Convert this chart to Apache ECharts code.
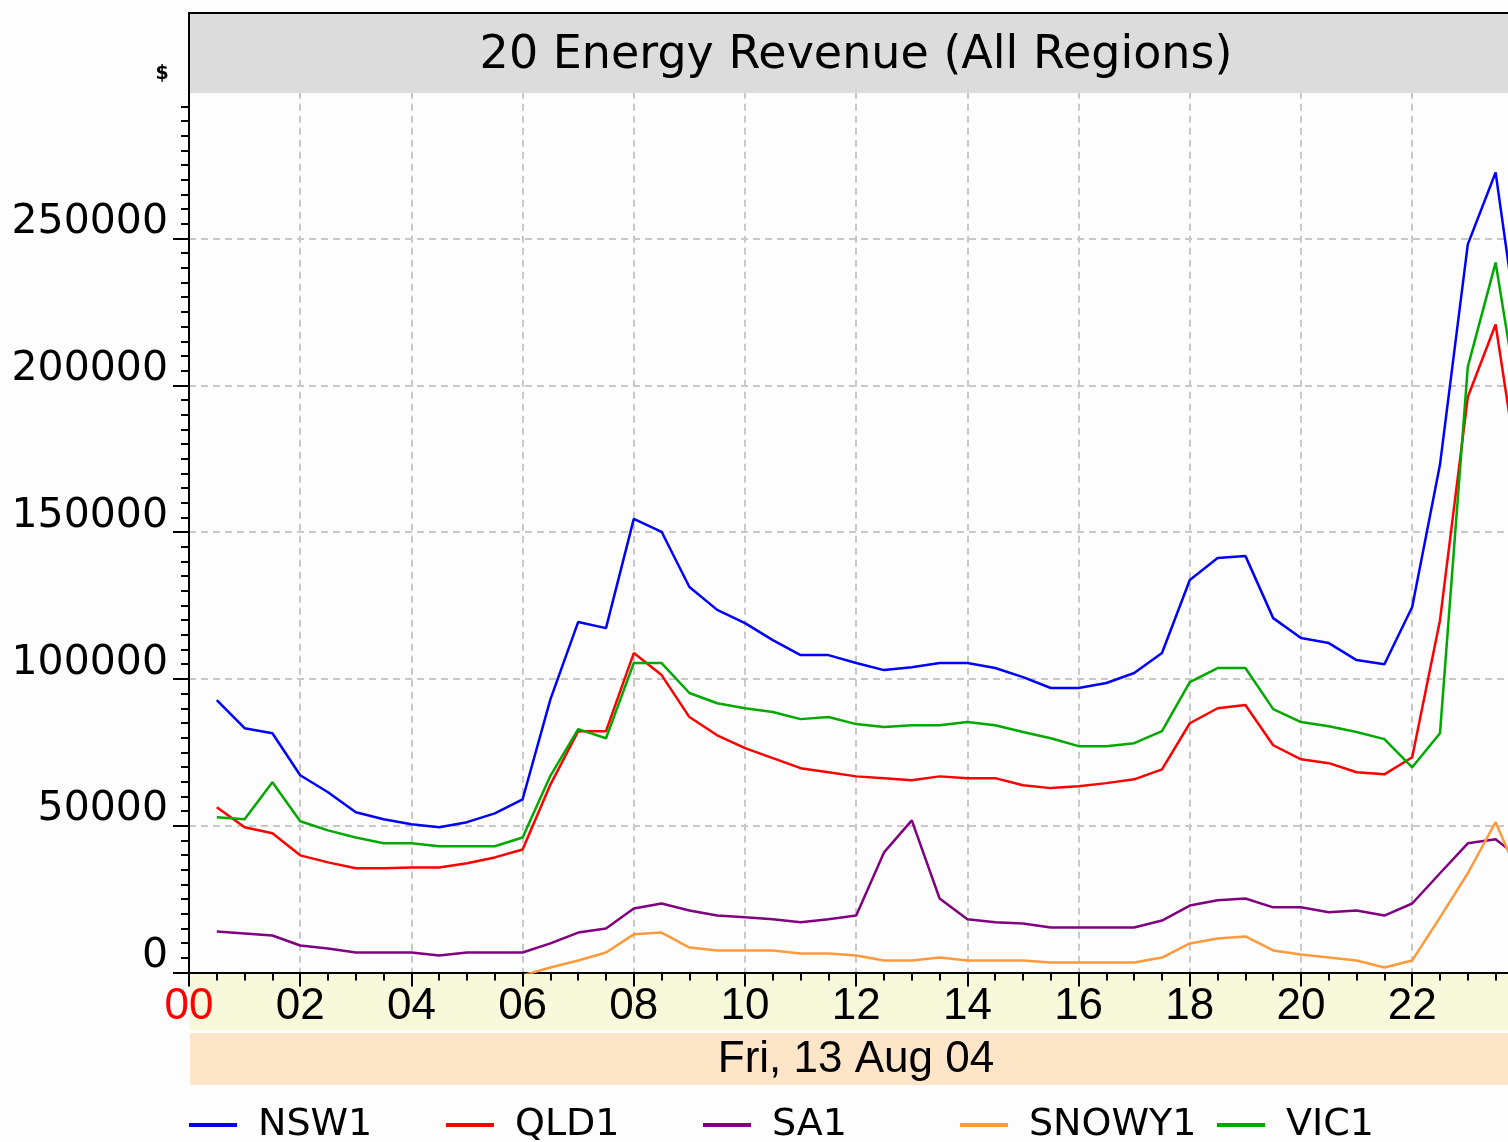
<!DOCTYPE html>
<html>
<head>
<meta charset="utf-8">
<title>20 Energy Revenue (All Regions)</title>
<script src="https://cdn.jsdelivr.net/npm/echarts@6/dist/echarts.min.js"></script>
<style>
  html, body { margin: 0; padding: 0; background: #fdfdfd; }
  #chart { width: 1508px; height: 1142px; }
</style>
</head>
<body>
<div id="chart"></div>
<script>
// Half-hourly trading intervals (hour of day, interval end)
const hours = [
  0.5, 1, 1.5, 2, 2.5, 3, 3.5, 4, 4.5, 5, 5.5, 6,
  6.5, 7, 7.5, 8, 8.5, 9, 9.5, 10, 10.5, 11, 11.5, 12,
  12.5, 13, 13.5, 14, 14.5, 15, 15.5, 16, 16.5, 17, 17.5, 18,
  18.5, 19, 19.5, 20, 20.5, 21, 21.5, 22, 22.5, 23, 23.5, 24
];

// Energy revenue per region, $
const nsw1 = [
  92800, 83200, 81500, 67200, 61400, 54600, 52200, 50500, 49500, 51200, 54200, 59000,
  93000, 119400, 117300, 154500, 150100, 131300, 123500, 119000, 113200, 108100, 108100, 105400,
  103000, 104000, 105400, 105400, 103700, 100600, 96900, 96900, 98600, 102000, 108800, 133700,
  141200, 141900, 120700, 113900, 112200, 106400, 105000, 124500, 173000, 248000, 272500, 205000
];
const qld1 = [
  56300, 49500, 47400, 39900, 37500, 35500, 35500, 35800, 35800, 37200, 39200, 41900,
  64000, 82200, 82200, 108800, 101300, 87000, 80800, 76400, 73000, 69600, 68200, 66800,
  66200, 65500, 66800, 66200, 66200, 63800, 62800, 63400, 64500, 65800, 69200, 84900,
  90000, 91100, 77400, 72600, 71300, 68200, 67500, 73300, 120000, 196000, 220700, 158600
];
const sa1 = [
  14000, 13300, 12600, 9200, 8200, 6800, 6800, 6800, 5800, 6800, 6800, 6800,
  9900, 13600, 15000, 21800, 23500, 21100, 19400, 18800, 18100, 17100, 18100, 19400,
  40900, 51800, 25200, 18100, 17100, 16700, 15300, 15300, 15300, 15300, 17700, 22800,
  24600, 25200, 22200, 22200, 20500, 21100, 19400, 23500, 33800, 44000, 45400, 37900
];
const snowy1 = [
  null, null, null, null, null, null, null, null, null, null, null, -1000,
  1700, 4100, 6800, 13000, 13600, 8500, 7500, 7500, 7500, 6500, 6500, 5800,
  4100, 4100, 5100, 4100, 4100, 4100, 3400, 3400, 3400, 3400, 5100, 9900,
  11600, 12300, 7500, 6100, 5100, 4100, 1700, 4100, 18800, 33800, 51200, 29300
];
const vic1 = [
  52900, 52200, 64800, 51500, 48400, 46000, 44000, 44000, 43000, 43000, 43000, 46000,
  67000, 82900, 79800, 105400, 105400, 95200, 91700, 90000, 88700, 86300, 87000, 84600,
  83600, 84200, 84200, 85300, 84200, 81900, 79800, 77100, 77100, 78100, 82200, 98900,
  103700, 103700, 89700, 85300, 83900, 81900, 79500, 69900, 81500, 206300, 241800, 183500
];

const regionNames = ['NSW1', 'QLD1', 'SA1', 'SNOWY1', 'VIC1'];
const regionValues = [nsw1, qld1, sa1, snowy1, vic1];
const regionColors = ['#0000ff', '#ff0000', '#800080', '#ff9a3c', '#00a800'];

const chartTitle = '20 Energy Revenue (All Regions)';
const dateLabel = 'Fri, 13 Aug 04';
const unitLabel = '$';

const chart = echarts.init(document.getElementById('chart'), null, { renderer: 'canvas' });

const series = regionNames.map((name, i) => ({
  name: name,
  type: 'line',
  data: hours.map((h, k) => [h, regionValues[i][k]]),
  symbol: 'none',
  clip: true,
  connectNulls: false,
  lineStyle: { color: regionColors[i], width: 2.5 },
  itemStyle: { color: regionColors[i] },
  emphasis: { disabled: true },
  z: 2 + i
}));

const gridLine = { show: true, lineStyle: { color: '#c8c8c8', width: 2, type: [7, 5] } };
const hourFont = { fontFamily: 'Liberation Sans', fontSize: 44, lineHeight: 44 };

chart.setOption({
  backgroundColor: '#fdfdfd',
  animation: false,
  title: {
    text: chartTitle,
    left: 856,
    textAlign: 'center',
    top: 33,
    padding: 0,
    z: 200,
    textStyle: {
      fontFamily: 'DejaVu Sans',
      fontSize: 46,
      fontWeight: 'normal',
      color: '#000',
      lineHeight: 46
    }
  },
  legend: {
    data: regionNames,
    left: 189,
    top: 1105,
    padding: 0,
    itemGap: 18,
    itemWidth: 48,
    itemHeight: 4,
    icon: 'rect',
    selectedMode: false,
    textStyle: {
      fontFamily: 'DejaVu Sans',
      fontSize: 38,
      color: '#000',
      width: 170,
      lineHeight: 40,
      padding: [0, 0, 0, 16]
    }
  },
  grid: {
    left: 189,
    top: 91.7,
    width: 1334.4,
    height: 880.8,
    containLabel: false,
    outerBoundsMode: 'none'
  },
  xAxis: {
    type: 'value',
    min: 0,
    max: 24,
    interval: 2,
    axisLine: { show: true, onZero: false, lineStyle: { color: '#000', width: 2 } },
    axisTick: { show: true, length: 14, lineStyle: { color: '#000', width: 2 } },
    minorTick: { show: true, splitNumber: 4, length: 8, lineStyle: { color: '#000', width: 2 } },
    splitLine: gridLine,
    axisLabel: {
      showMaxLabel: false,
      hideOverlap: false,
      margin: 12,
      ...hourFont,
      color: '#000',
      formatter: v => {
        const s = String(v).padStart(2, '0');
        return v === 0 ? '{first|' + s + '}' : s;
      },
      rich: {
        first: { ...hourFont, color: '#ff0000' }
      }
    }
  },
  yAxis: {
    type: 'value',
    min: 0,
    max: 300000,
    interval: 50000,
    axisLine: { show: true, onZero: false, lineStyle: { color: '#000', width: 2 } },
    axisTick: { show: true, length: 16, lineStyle: { color: '#000', width: 2 } },
    minorTick: { show: true, splitNumber: 10, length: 8, lineStyle: { color: '#000', width: 2 } },
    splitLine: gridLine,
    axisLabel: {
      showMaxLabel: false,
      margin: 21,
      fontFamily: 'DejaVu Sans',
      fontSize: 41,
      lineHeight: 32,
      verticalAlign: 'bottom',
      color: '#000',
      formatter: v => String(v)
    }
  },
  graphic: [
    // band behind the hour labels
    { type: 'rect', z: -1, shape: { x: 189, y: 974, width: 1319, height: 56 }, style: { fill: '#f8f8da' } },
    // band behind the date label
    { type: 'rect', z: -1, shape: { x: 190, y: 1033, width: 1318, height: 52 }, style: { fill: '#fde5c8' } },
    {
      type: 'text', z: 10, x: 856, y: 1060,
      style: {
        text: dateLabel, fontFamily: 'Liberation Sans', fontSize: 44,
        fill: '#000', align: 'center', verticalAlign: 'middle'
      }
    },
    // title band across the top of the plot frame; the left margin beside it stays blank
    { type: 'rect', z: 100, shape: { x: 190, y: 14, width: 1318, height: 79 }, style: { fill: '#dcdcdc' } },
    { type: 'rect', z: 100, shape: { x: 165, y: 86, width: 23, height: 12 }, style: { fill: '#fdfdfd' } },
    { type: 'line', z: 101, shape: { x1: 188, y1: 13, x2: 1508, y2: 13 }, style: { stroke: '#000', lineWidth: 2 } },
    { type: 'line', z: 101, shape: { x1: 189, y1: 12, x2: 189, y2: 100 }, style: { stroke: '#000', lineWidth: 2 } },
    {
      type: 'text', z: 10, x: 162, y: 74,
      style: {
        text: unitLabel, fontFamily: 'DejaVu Sans', fontSize: 19, fontWeight: 'bold',
        fill: '#000', align: 'center', verticalAlign: 'middle'
      }
    }
  ],
  series: series
});
</script>
</body>
</html>
